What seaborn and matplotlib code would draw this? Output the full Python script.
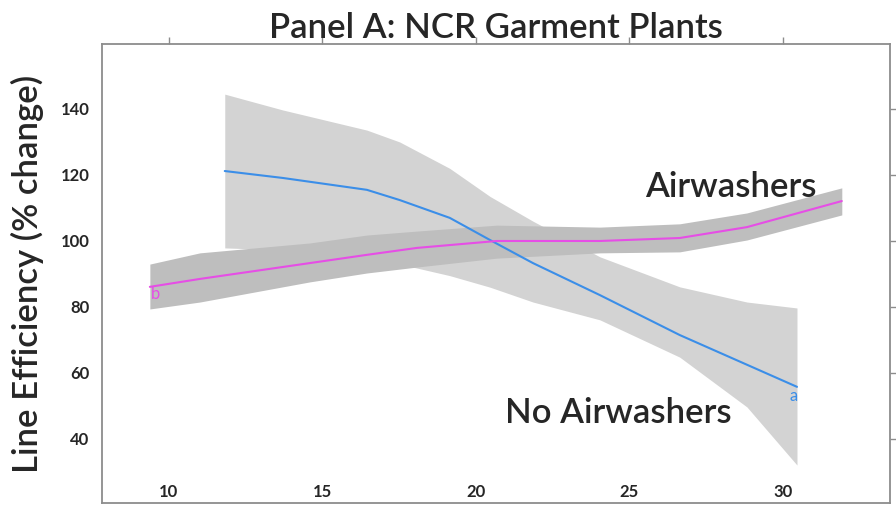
import pandas as pd
import seaborn as sns
import matplotlib.pyplot as plt

# No Airwashers (blue) - fitted line and confidence band
no_x = [11.82, 13.71, 16.45, 17.52, 19.15, 20.46, 21.86, 24.04, 26.64, 28.83, 30.46]
no_y = [121.2, 119.1, 115.5, 112.4, 107.0, 100.3, 93.3, 83.6, 71.5, 62.5, 55.8]
no_hi = [144.5, 139.7, 133.6, 130.0, 122.0, 113.5, 106.0, 95.2, 86.1, 81.5, 79.7]
no_lo = [97.9, 97.3, 94.8, 93.0, 89.5, 86.0, 81.5, 76.1, 64.8, 49.7, 32.1]

# Airwashers (magenta)
aw_x = [9.38, 11.01, 14.59, 16.45, 18.08, 20.68, 24.04, 26.64, 28.83, 31.92]
aw_y = [86.1, 88.5, 93.3, 95.8, 97.9, 100.0, 100.0, 100.9, 104.2, 112.1]
aw_hi = [93.0, 96.4, 99.4, 101.8, 103.0, 104.8, 104.2, 105.2, 108.5, 116.1]
aw_lo = [79.4, 81.5, 87.6, 90.3, 92.1, 94.8, 96.4, 96.7, 100.3, 107.9]

xticks = [10, 15, 20, 25, 30]
yticks = [40, 60, 80, 100, 120, 140]

no_df = pd.DataFrame({"temp": no_x, "eff": no_y})
aw_df = pd.DataFrame({"temp": aw_x, "eff": aw_y})

sns.set_style("white")
plt.rcParams['font.family'] = ['Lato', 'DejaVu Sans']

fig = plt.figure(figsize=(8.96, 5.09), dpi=100)
ax = fig.add_axes([0.1138, 0.0118, 0.8795, 0.9018])

ax.fill_between(no_x, no_lo, no_hi, color="#d3d3d3", lw=0, zorder=1)
ax.fill_between(aw_x, aw_lo, aw_hi, color="#bebebe", lw=0, zorder=2)
sns.lineplot(data=no_df, x="temp", y="eff", color="#3b8ee8", lw=1.5, ax=ax, zorder=3)
sns.lineplot(data=aw_df, x="temp", y="eff", color="#e64ee6", lw=1.5, ax=ax, zorder=4)

big = dict(fontsize=25, fontweight="semibold")
ax.text(no_x[-1] - 0.1, no_y[-1] - 2.8, "a", color="#3b8ee8", fontsize=12, ha="center", va="center")
ax.text(aw_x[0] + 0.2, aw_y[0] - 2.3, "b", color="#e64ee6", fontsize=12, ha="center", va="center")
ax.text(28.3, 116.3, "Airwashers", ha="center", va="center", **big)
ax.text(24.63, 48.0, "No Airwashers", ha="center", va="center", **big)

ax.set_xlim(7.82, 33.49)
ax.set_ylim(20.6, 159.7)
ax.set_xticks(xticks)
ax.set_yticks(yticks)
ax.set_xlabel("")
ax.set_ylabel("Line Efficiency (% change)", labelpad=12, **big)
ax.set_title("Panel A: NCR Garment Plants", pad=4, **big)

for s in ax.spines.values():
    s.set_color("#8c8c8c")
    s.set_linewidth(1.3)
ax.tick_params(axis="both", direction="out", length=5, width=1, color="#8c8c8c",
               top=True, right=True, labeltop=False, labelright=False)
ax.tick_params(axis="x", pad=-19)
ax.tick_params(axis="y", pad=4)
for lab in ax.get_xticklabels() + ax.get_yticklabels():
    lab.set_fontweight("bold")
    lab.set_fontsize(12)

fig.savefig("out.png", dpi=100)
